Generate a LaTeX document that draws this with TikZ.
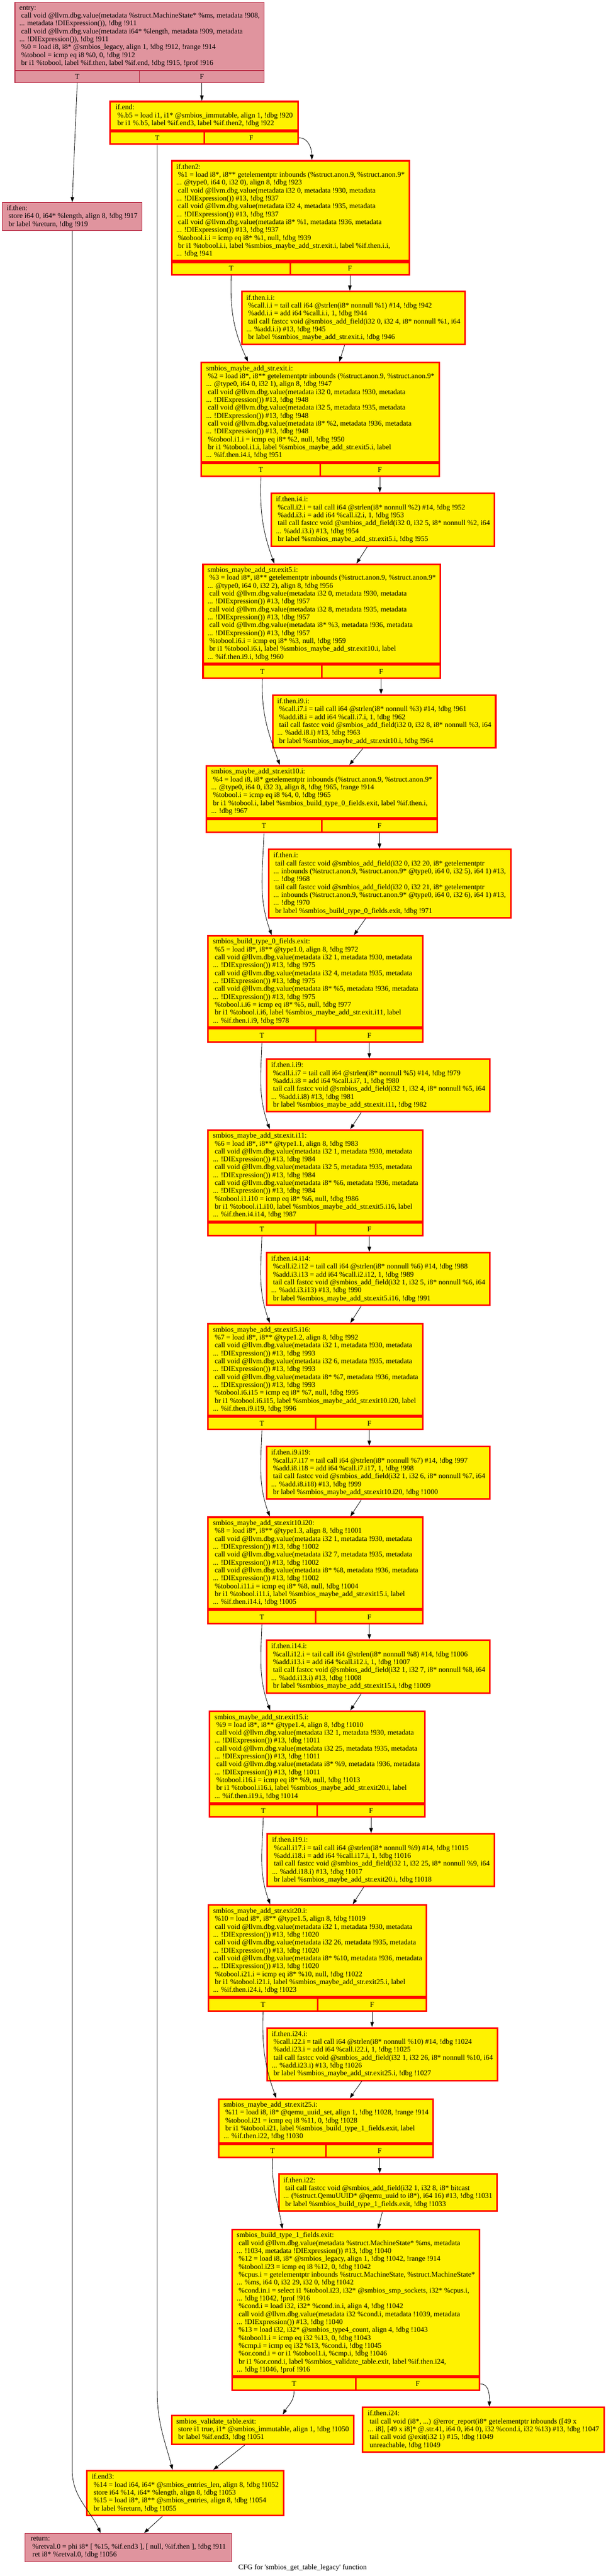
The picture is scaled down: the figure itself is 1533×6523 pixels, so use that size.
\documentclass[tikz,border=0pt]{standalone}
\usepackage{fontspec}
\setmainfont{Liberation Serif}
\usetikzlibrary{arrows.meta}
\definecolor{coldfill}{RGB}{224,148,158}
\definecolor{coldline}{RGB}{180,28,56}

\begin{document}
\begin{tikzpicture}[x=1pt,y=1pt]
		\tikzset{block/.style={draw=red, line width=4pt, fill=yellow, align=left, anchor=north west, inner sep=0pt, font=\fontsize{18.4}{20}\selectfont}}
		\tikzset{coldblock/.style={block, draw=coldline, line width=1.5pt, fill=coldfill}}
		\tikzset{cell/.style={draw=red, line width=4pt, fill=yellow, inner sep=0pt, font=\fontsize{18.4}{20}\selectfont}}
		\tikzset{coldcell/.style={cell, draw=coldline, line width=1.5pt, fill=coldfill}}
		\tikzset{flow/.style={draw, line width=1.1pt, -{Triangle[length=13pt,width=9pt]}}}
		\useasboundingbox (0,0) rectangle (1533,-6523);
		% blocks, top left corner at pixel position
		\node[coldblock, minimum width=631pt, minimum height=172pt] (entry) at (37,-5) {entry:\\
\ call void @llvm.dbg.value(metadata \%struct.MachineState* \%ms, metadata !908,\\
... metadata !DIExpression()), !dbg !911\\
\ call void @llvm.dbg.value(metadata i64* \%length, metadata !909, metadata\\
... !DIExpression()), !dbg !911\\
\ \%0 = load i8, i8* @smbios\_legacy, align 1, !dbg !912, !range !914\\
\ \%tobool = icmp eq i8 \%0, 0, !dbg !912\\
\ br i1 \%tobool, label \%if.then, label \%if.end, !dbg !915, !prof !916};
		\node[coldcell, anchor=north west, minimum width=315.5pt, minimum height=30pt] (entry-t) at (entry.south west) {T};
		\node[coldcell, anchor=north east, minimum width=315.5pt, minimum height=30pt] (entry-f) at (entry.south east) {F};

		\node[coldblock, minimum width=354pt, minimum height=71pt] (ifthen) at (5,-512) {if.then:\\
\ store i64 0, i64* \%length, align 8, !dbg !917\\
\ br label \%return, !dbg !919};

		\node[block, minimum width=476pt, minimum height=72pt] (ifend) at (277,-255) {if.end:\\
\ \%.b5 = load i1, i1* @smbios\_immutable, align 1, !dbg !920\\
\ br i1 \%.b5, label \%if.end3, label \%if.then2, !dbg !922};
		\node[cell, anchor=north west, minimum width=238pt, minimum height=32pt] (ifend-t) at (ifend.south west) {T};
		\node[cell, anchor=north east, minimum width=238pt, minimum height=32pt] (ifend-f) at (ifend.south east) {F};

		\node[block, minimum width=601pt, minimum height=253pt] (ifthentwo) at (433,-405) {if.then2:\\
\ \%1 = load i8*, i8** getelementptr inbounds (\%struct.anon.9, \%struct.anon.9*\\
... @type0, i64 0, i32 0), align 8, !dbg !923\\
\ call void @llvm.dbg.value(metadata i32 0, metadata !930, metadata\\
... !DIExpression()) \#13, !dbg !937\\
\ call void @llvm.dbg.value(metadata i32 4, metadata !935, metadata\\
... !DIExpression()) \#13, !dbg !937\\
\ call void @llvm.dbg.value(metadata i8* \%1, metadata !936, metadata\\
... !DIExpression()) \#13, !dbg !937\\
\ \%tobool.i.i = icmp eq i8* \%1, null, !dbg !939\\
\ br i1 \%tobool.i.i, label \%smbios\_maybe\_add\_str.exit.i, label \%if.then.i.i,\\
... !dbg !941};
		\node[cell, anchor=north west, minimum width=300.5pt, minimum height=32pt] (ifthentwo-t) at (ifthentwo.south west) {T};
		\node[cell, anchor=north east, minimum width=300.5pt, minimum height=32pt] (ifthentwo-f) at (ifthentwo.south east) {F};

		\node[block, minimum width=565pt, minimum height=134pt] (thenA) at (610,-736) {if.then.i.i:\\
\ \%call.i.i = tail call i64 @strlen(i8* nonnull \%1) \#14, !dbg !942\\
\ \%add.i.i = add i64 \%call.i.i, 1, !dbg !944\\
\ tail call fastcc void @smbios\_add\_field(i32 0, i32 4, i8* nonnull \%1, i64\\
... \%add.i.i) \#13, !dbg !945\\
\ br label \%smbios\_maybe\_add\_str.exit.i, !dbg !946};

		\node[block, minimum width=602pt, minimum height=252pt] (exitA) at (508,-916) {smbios\_maybe\_add\_str.exit.i:\\
\ \%2 = load i8*, i8** getelementptr inbounds (\%struct.anon.9, \%struct.anon.9*\\
... @type0, i64 0, i32 1), align 8, !dbg !947\\
\ call void @llvm.dbg.value(metadata i32 0, metadata !930, metadata\\
... !DIExpression()) \#13, !dbg !948\\
\ call void @llvm.dbg.value(metadata i32 5, metadata !935, metadata\\
... !DIExpression()) \#13, !dbg !948\\
\ call void @llvm.dbg.value(metadata i8* \%2, metadata !936, metadata\\
... !DIExpression()) \#13, !dbg !948\\
\ \%tobool.i1.i = icmp eq i8* \%2, null, !dbg !950\\
\ br i1 \%tobool.i1.i, label \%smbios\_maybe\_add\_str.exit5.i, label\\
... \%if.then.i4.i, !dbg !951};
		\node[cell, anchor=north west, minimum width=301pt, minimum height=32pt] (exitA-t) at (exitA.south west) {T};
		\node[cell, anchor=north east, minimum width=301pt, minimum height=32pt] (exitA-f) at (exitA.south east) {F};

		\node[block, minimum width=565pt, minimum height=134pt] (thenB) at (685,-1247) {if.then.i4.i:\\
\ \%call.i2.i = tail call i64 @strlen(i8* nonnull \%2) \#14, !dbg !952\\
\ \%add.i3.i = add i64 \%call.i2.i, 1, !dbg !953\\
\ tail call fastcc void @smbios\_add\_field(i32 0, i32 5, i8* nonnull \%2, i64\\
... \%add.i3.i) \#13, !dbg !954\\
\ br label \%smbios\_maybe\_add\_str.exit5.i, !dbg !955};

		\node[block, minimum width=601pt, minimum height=251pt] (exitB) at (512,-1427) {smbios\_maybe\_add\_str.exit5.i:\\
\ \%3 = load i8*, i8** getelementptr inbounds (\%struct.anon.9, \%struct.anon.9*\\
... @type0, i64 0, i32 2), align 8, !dbg !956\\
\ call void @llvm.dbg.value(metadata i32 0, metadata !930, metadata\\
... !DIExpression()) \#13, !dbg !957\\
\ call void @llvm.dbg.value(metadata i32 8, metadata !935, metadata\\
... !DIExpression()) \#13, !dbg !957\\
\ call void @llvm.dbg.value(metadata i8* \%3, metadata !936, metadata\\
... !DIExpression()) \#13, !dbg !957\\
\ \%tobool.i6.i = icmp eq i8* \%3, null, !dbg !959\\
\ br i1 \%tobool.i6.i, label \%smbios\_maybe\_add\_str.exit10.i, label\\
... \%if.then.i9.i, !dbg !960};
		\node[cell, anchor=north west, minimum width=300.5pt, minimum height=33pt] (exitB-t) at (exitB.south west) {T};
		\node[cell, anchor=north east, minimum width=300.5pt, minimum height=33pt] (exitB-f) at (exitB.south east) {F};

		\node[block, minimum width=564pt, minimum height=134pt] (thenC) at (689,-1758) {if.then.i9.i:\\
\ \%call.i7.i = tail call i64 @strlen(i8* nonnull \%3) \#14, !dbg !961\\
\ \%add.i8.i = add i64 \%call.i7.i, 1, !dbg !962\\
\ tail call fastcc void @smbios\_add\_field(i32 0, i32 8, i8* nonnull \%3, i64\\
... \%add.i8.i) \#13, !dbg !963\\
\ br label \%smbios\_maybe\_add\_str.exit10.i, !dbg !964};

		\node[block, minimum width=585pt, minimum height=132pt] (exitC) at (520,-1937) {smbios\_maybe\_add\_str.exit10.i:\\
\ \%4 = load i8, i8* getelementptr inbounds (\%struct.anon.9, \%struct.anon.9*\\
... @type0, i64 0, i32 3), align 8, !dbg !965, !range !914\\
\ \%tobool.i = icmp eq i8 \%4, 0, !dbg !965\\
\ br i1 \%tobool.i, label \%smbios\_build\_type\_0\_fields.exit, label \%if.then.i,\\
... !dbg !967};
		\node[cell, anchor=north west, minimum width=292.5pt, minimum height=33pt] (exitC-t) at (exitC.south west) {T};
		\node[cell, anchor=north east, minimum width=292.5pt, minimum height=33pt] (exitC-f) at (exitC.south east) {F};

		\node[block, minimum width=613pt, minimum height=173pt] (thenD) at (678,-2149) {if.then.i:\\
\ tail call fastcc void @smbios\_add\_field(i32 0, i32 20, i8* getelementptr\\
... inbounds (\%struct.anon.9, \%struct.anon.9* @type0, i64 0, i32 5), i64 1) \#13,\\
... !dbg !968\\
\ tail call fastcc void @smbios\_add\_field(i32 0, i32 21, i8* getelementptr\\
... inbounds (\%struct.anon.9, \%struct.anon.9* @type0, i64 0, i32 6), i64 1) \#13,\\
... !dbg !970\\
\ br label \%smbios\_build\_type\_0\_fields.exit, !dbg !971};

		\node[block, minimum width=544pt, minimum height=231pt] (typezero) at (525,-2368) {smbios\_build\_type\_0\_fields.exit:\\
\ \%5 = load i8*, i8** @type1.0, align 8, !dbg !972\\
\ call void @llvm.dbg.value(metadata i32 1, metadata !930, metadata\\
... !DIExpression()) \#13, !dbg !975\\
\ call void @llvm.dbg.value(metadata i32 4, metadata !935, metadata\\
... !DIExpression()) \#13, !dbg !975\\
\ call void @llvm.dbg.value(metadata i8* \%5, metadata !936, metadata\\
... !DIExpression()) \#13, !dbg !975\\
\ \%tobool.i.i6 = icmp eq i8* \%5, null, !dbg !977\\
\ br i1 \%tobool.i.i6, label \%smbios\_maybe\_add\_str.exit.i11, label\\
... \%if.then.i.i9, !dbg !978};
		\node[cell, anchor=north west, minimum width=272pt, minimum height=34pt] (typezero-t) at (typezero.south west) {T};
		\node[cell, anchor=north east, minimum width=272pt, minimum height=34pt] (typezero-f) at (typezero.south east) {F};

		\node[block, minimum width=565pt, minimum height=133pt] (thenE) at (673,-2680) {if.then.i.i9:\\
\ \%call.i.i7 = tail call i64 @strlen(i8* nonnull \%5) \#14, !dbg !979\\
\ \%add.i.i8 = add i64 \%call.i.i7, 1, !dbg !980\\
\ tail call fastcc void @smbios\_add\_field(i32 1, i32 4, i8* nonnull \%5, i64\\
... \%add.i.i8) \#13, !dbg !981\\
\ br label \%smbios\_maybe\_add\_str.exit.i11, !dbg !982};

		\node[block, minimum width=544pt, minimum height=232pt] (exitE) at (525,-2859) {smbios\_maybe\_add\_str.exit.i11:\\
\ \%6 = load i8*, i8** @type1.1, align 8, !dbg !983\\
\ call void @llvm.dbg.value(metadata i32 1, metadata !930, metadata\\
... !DIExpression()) \#13, !dbg !984\\
\ call void @llvm.dbg.value(metadata i32 5, metadata !935, metadata\\
... !DIExpression()) \#13, !dbg !984\\
\ call void @llvm.dbg.value(metadata i8* \%6, metadata !936, metadata\\
... !DIExpression()) \#13, !dbg !984\\
\ \%tobool.i1.i10 = icmp eq i8* \%6, null, !dbg !986\\
\ br i1 \%tobool.i1.i10, label \%smbios\_maybe\_add\_str.exit5.i16, label\\
... \%if.then.i4.i14, !dbg !987};
		\node[cell, anchor=north west, minimum width=272pt, minimum height=32pt] (exitE-t) at (exitE.south west) {T};
		\node[cell, anchor=north east, minimum width=272pt, minimum height=32pt] (exitE-f) at (exitE.south east) {F};

		\node[block, minimum width=565pt, minimum height=133pt] (thenF) at (673,-3170) {if.then.i4.i14:\\
\ \%call.i2.i12 = tail call i64 @strlen(i8* nonnull \%6) \#14, !dbg !988\\
\ \%add.i3.i13 = add i64 \%call.i2.i12, 1, !dbg !989\\
\ tail call fastcc void @smbios\_add\_field(i32 1, i32 5, i8* nonnull \%6, i64\\
... \%add.i3.i13) \#13, !dbg !990\\
\ br label \%smbios\_maybe\_add\_str.exit5.i16, !dbg !991};

		\node[block, minimum width=544pt, minimum height=232pt] (exitF) at (525,-3350) {smbios\_maybe\_add\_str.exit5.i16:\\
\ \%7 = load i8*, i8** @type1.2, align 8, !dbg !992\\
\ call void @llvm.dbg.value(metadata i32 1, metadata !930, metadata\\
... !DIExpression()) \#13, !dbg !993\\
\ call void @llvm.dbg.value(metadata i32 6, metadata !935, metadata\\
... !DIExpression()) \#13, !dbg !993\\
\ call void @llvm.dbg.value(metadata i8* \%7, metadata !936, metadata\\
... !DIExpression()) \#13, !dbg !993\\
\ \%tobool.i6.i15 = icmp eq i8* \%7, null, !dbg !995\\
\ br i1 \%tobool.i6.i15, label \%smbios\_maybe\_add\_str.exit10.i20, label\\
... \%if.then.i9.i19, !dbg !996};
		\node[cell, anchor=north west, minimum width=272pt, minimum height=32pt] (exitF-t) at (exitF.south west) {T};
		\node[cell, anchor=north east, minimum width=272pt, minimum height=32pt] (exitF-f) at (exitF.south east) {F};

		\node[block, minimum width=565pt, minimum height=133pt] (thenG) at (673,-3661) {if.then.i9.i19:\\
\ \%call.i7.i17 = tail call i64 @strlen(i8* nonnull \%7) \#14, !dbg !997\\
\ \%add.i8.i18 = add i64 \%call.i7.i17, 1, !dbg !998\\
\ tail call fastcc void @smbios\_add\_field(i32 1, i32 6, i8* nonnull \%7, i64\\
... \%add.i8.i18) \#13, !dbg !999\\
\ br label \%smbios\_maybe\_add\_str.exit10.i20, !dbg !1000};

		\node[block, minimum width=544pt, minimum height=232pt] (exitG) at (525,-3840) {smbios\_maybe\_add\_str.exit10.i20:\\
\ \%8 = load i8*, i8** @type1.3, align 8, !dbg !1001\\
\ call void @llvm.dbg.value(metadata i32 1, metadata !930, metadata\\
... !DIExpression()) \#13, !dbg !1002\\
\ call void @llvm.dbg.value(metadata i32 7, metadata !935, metadata\\
... !DIExpression()) \#13, !dbg !1002\\
\ call void @llvm.dbg.value(metadata i8* \%8, metadata !936, metadata\\
... !DIExpression()) \#13, !dbg !1002\\
\ \%tobool.i11.i = icmp eq i8* \%8, null, !dbg !1004\\
\ br i1 \%tobool.i11.i, label \%smbios\_maybe\_add\_str.exit15.i, label\\
... \%if.then.i14.i, !dbg !1005};
		\node[cell, anchor=north west, minimum width=272pt, minimum height=33pt] (exitG-t) at (exitG.south west) {T};
		\node[cell, anchor=north east, minimum width=272pt, minimum height=33pt] (exitG-f) at (exitG.south east) {F};

		\node[block, minimum width=565pt, minimum height=134pt] (thenH) at (673,-4151) {if.then.i14.i:\\
\ \%call.i12.i = tail call i64 @strlen(i8* nonnull \%8) \#14, !dbg !1006\\
\ \%add.i13.i = add i64 \%call.i12.i, 1, !dbg !1007\\
\ tail call fastcc void @smbios\_add\_field(i32 1, i32 7, i8* nonnull \%8, i64\\
... \%add.i13.i) \#13, !dbg !1008\\
\ br label \%smbios\_maybe\_add\_str.exit15.i, !dbg !1009};

		\node[block, minimum width=546pt, minimum height=232pt] (exitH) at (528,-4331) {smbios\_maybe\_add\_str.exit15.i:\\
\ \%9 = load i8*, i8** @type1.4, align 8, !dbg !1010\\
\ call void @llvm.dbg.value(metadata i32 1, metadata !930, metadata\\
... !DIExpression()) \#13, !dbg !1011\\
\ call void @llvm.dbg.value(metadata i32 25, metadata !935, metadata\\
... !DIExpression()) \#13, !dbg !1011\\
\ call void @llvm.dbg.value(metadata i8* \%9, metadata !936, metadata\\
... !DIExpression()) \#13, !dbg !1011\\
\ \%tobool.i16.i = icmp eq i8* \%9, null, !dbg !1013\\
\ br i1 \%tobool.i16.i, label \%smbios\_maybe\_add\_str.exit20.i, label\\
... \%if.then.i19.i, !dbg !1014};
		\node[cell, anchor=north west, minimum width=273pt, minimum height=32pt] (exitH-t) at (exitH.south west) {T};
		\node[cell, anchor=north east, minimum width=273pt, minimum height=32pt] (exitH-f) at (exitH.south east) {F};

		\node[block, minimum width=575pt, minimum height=133pt] (thenI) at (675,-4642) {if.then.i19.i:\\
\ \%call.i17.i = tail call i64 @strlen(i8* nonnull \%9) \#14, !dbg !1015\\
\ \%add.i18.i = add i64 \%call.i17.i, 1, !dbg !1016\\
\ tail call fastcc void @smbios\_add\_field(i32 1, i32 25, i8* nonnull \%9, i64\\
... \%add.i18.i) \#13, !dbg !1017\\
\ br label \%smbios\_maybe\_add\_str.exit20.i, !dbg !1018};

		\node[block, minimum width=552pt, minimum height=232pt] (exitI) at (526,-4822) {smbios\_maybe\_add\_str.exit20.i:\\
\ \%10 = load i8*, i8** @type1.5, align 8, !dbg !1019\\
\ call void @llvm.dbg.value(metadata i32 1, metadata !930, metadata\\
... !DIExpression()) \#13, !dbg !1020\\
\ call void @llvm.dbg.value(metadata i32 26, metadata !935, metadata\\
... !DIExpression()) \#13, !dbg !1020\\
\ call void @llvm.dbg.value(metadata i8* \%10, metadata !936, metadata\\
... !DIExpression()) \#13, !dbg !1020\\
\ \%tobool.i21.i = icmp eq i8* \%10, null, !dbg !1022\\
\ br i1 \%tobool.i21.i, label \%smbios\_maybe\_add\_str.exit25.i, label\\
... \%if.then.i24.i, !dbg !1023};
		\node[cell, anchor=north west, minimum width=276pt, minimum height=32pt] (exitI-t) at (exitI.south west) {T};
		\node[cell, anchor=north east, minimum width=276pt, minimum height=32pt] (exitI-f) at (exitI.south east) {F};

		\node[block, minimum width=582pt, minimum height=133pt] (thenJ) at (675,-5133) {if.then.i24.i:\\
\ \%call.i22.i = tail call i64 @strlen(i8* nonnull \%10) \#14, !dbg !1024\\
\ \%add.i23.i = add i64 \%call.i22.i, 1, !dbg !1025\\
\ tail call fastcc void @smbios\_add\_field(i32 1, i32 26, i8* nonnull \%10, i64\\
... \%add.i23.i) \#13, !dbg !1026\\
\ br label \%smbios\_maybe\_add\_str.exit25.i, !dbg !1027};

		\node[block, minimum width=543pt, minimum height=111pt] (exitJ) at (552,-5313) {smbios\_maybe\_add\_str.exit25.i:\\
\ \%11 = load i8, i8* @qemu\_uuid\_set, align 1, !dbg !1028, !range !914\\
\ \%tobool.i21 = icmp eq i8 \%11, 0, !dbg !1028\\
\ br i1 \%tobool.i21, label \%smbios\_build\_type\_1\_fields.exit, label\\
... \%if.then.i22, !dbg !1030};
		\node[cell, anchor=north west, minimum width=271.5pt, minimum height=33pt] (exitJ-t) at (exitJ.south west) {T};
		\node[cell, anchor=north east, minimum width=271.5pt, minimum height=33pt] (exitJ-f) at (exitJ.south east) {F};

		\node[block, minimum width=552pt, minimum height=94pt] (thenK) at (704,-5503) {if.then.i22:\\
\ tail call fastcc void @smbios\_add\_field(i32 1, i32 8, i8* bitcast\\
... (\%struct.QemuUUID* @qemu\_uuid to i8*), i64 16) \#13, !dbg !1031\\
\ br label \%smbios\_build\_type\_1\_fields.exit, !dbg !1033};

		\node[block, minimum width=626pt, minimum height=370pt] (typeone) at (586,-5644) {smbios\_build\_type\_1\_fields.exit:\\
\ call void @llvm.dbg.value(metadata \%struct.MachineState* \%ms, metadata\\
... !1034, metadata !DIExpression()) \#13, !dbg !1040\\
\ \%12 = load i8, i8* @smbios\_legacy, align 1, !dbg !1042, !range !914\\
\ \%tobool.i23 = icmp eq i8 \%12, 0, !dbg !1042\\
\ \%cpus.i = getelementptr inbounds \%struct.MachineState, \%struct.MachineState*\\
... \%ms, i64 0, i32 29, i32 0, !dbg !1042\\
\ \%cond.in.i = select i1 \%tobool.i23, i32* @smbios\_smp\_sockets, i32* \%cpus.i,\\
... !dbg !1042, !prof !916\\
\ \%cond.i = load i32, i32* \%cond.in.i, align 4, !dbg !1042\\
\ call void @llvm.dbg.value(metadata i32 \%cond.i, metadata !1039, metadata\\
... !DIExpression()) \#13, !dbg !1040\\
\ \%13 = load i32, i32* @smbios\_type4\_count, align 4, !dbg !1043\\
\ \%tobool1.i = icmp eq i32 \%13, 0, !dbg !1043\\
\ \%cmp.i = icmp eq i32 \%13, \%cond.i, !dbg !1045\\
\ \%or.cond.i = or i1 \%tobool1.i, \%cmp.i, !dbg !1046\\
\ br i1 \%or.cond.i, label \%smbios\_validate\_table.exit, label \%if.then.i24,\\
... !dbg !1046, !prof !916};
		\node[cell, anchor=north west, minimum width=313pt, minimum height=33pt] (typeone-t) at (typeone.south west) {T};
		\node[cell, anchor=north east, minimum width=313pt, minimum height=33pt] (typeone-f) at (typeone.south east) {F};

		\node[block, minimum width=460pt, minimum height=73pt] (validate) at (433,-6114) {smbios\_validate\_table.exit:\\
\ store i1 true, i1* @smbios\_immutable, align 1, !dbg !1050\\
\ br label \%if.end3, !dbg !1051};

		\node[block, minimum width=612pt, minimum height=113pt] (fail) at (916,-6094) {if.then.i24:\\
\ tail call void (i8*, ...) @error\_report(i8* getelementptr inbounds ([49 x\\
... i8], [49 x i8]* @.str.41, i64 0, i64 0), i32 \%cond.i, i32 \%13) \#13, !dbg !1047\\
\ tail call void @exit(i32 1) \#15, !dbg !1049\\
\ unreachable, !dbg !1049};

		\node[block, minimum width=498pt, minimum height=114pt] (ifendthree) at (218,-6254) {if.end3:\\
\ \%14 = load i64, i64* @smbios\_entries\_len, align 8, !dbg !1052\\
\ store i64 \%14, i64* \%length, align 8, !dbg !1053\\
\ \%15 = load i8*, i8** @smbios\_entries, align 8, !dbg !1054\\
\ br label \%return, !dbg !1055};

		\node[coldblock, minimum width=524pt, minimum height=72pt] (ret) at (62,-6414) {return:\\
\ \%retval.0 = phi i8* [ \%15, \%if.end3 ], [ null, \%if.then ], !dbg !911\\
\ ret i8* \%retval.0, !dbg !1056};

		\node[font=\fontsize{18.4}{20}\selectfont] (caption) at (766,-6502) {CFG for \textquotesingle smbios\_get\_table\_legacy\textquotesingle\ function};

		% edges
		\draw[flow] (entry-t.south) -- (ifthen.north);
		\draw[flow] (entry-f.south) -- (entry-f.south |- ifend.north);
		\draw[flow] (ifend-f.east) to[out=0,in=90] ([xshift=54pt]ifthentwo.north);
		\draw[flow] (ifend-t.south) -- (ifend-t.south |- typeone-t.south) to[out=-90,in=105] ([xshift=-32pt]ifendthree.north);
		\draw[flow] (ifthen.south) -- (ifthen.south |- ifendthree.north) to[out=-90,in=115] ([xshift=-70pt]ret.north);

		\draw[flow] (ifthentwo-t.south) to[out=-92,in=115] ([xshift=-183pt]exitA.north);
		\draw[flow] (ifthentwo-f.south) -- (ifthentwo-f.south |- thenA.north);
		\draw[flow] ([xshift=-22pt]thenA.south) -- ([xshift=48pt]exitA.north);

		\draw[flow] (exitA-t.south) to[out=-92,in=110] ([xshift=-120pt]exitB.north);
		\draw[flow] (exitA-f.south) -- (exitA-f.south |- thenB.north);
		\draw[flow] ([xshift=-40pt]thenB.south) -- ([xshift=88pt]exitB.north);

		\draw[flow] (exitB-t.south) to[out=-92,in=110] ([xshift=-106pt]exitC.north);
		\draw[flow] (exitB-f.south) -- (exitB-f.south |- thenC.north);
		\draw[flow] ([xshift=-55pt]thenC.south) -- ([xshift=70pt]exitC.north);

		\draw[flow] (exitC-t.south) to[out=-92,in=110] ([xshift=-111pt]typezero.north);
		\draw[flow] (exitC-f.south) -- (exitC-f.south |- thenD.north);
		\draw[flow] ([xshift=-61pt]thenD.south) -- ([xshift=97pt]typezero.north);

		\draw[flow] (typezero-t.south) to[out=-92,in=110] ([xshift=-116pt]exitE.north);
		\draw[flow] (typezero-f.south) -- (typezero-f.south |- thenE.north);
		\draw[flow] ([xshift=-43pt]thenE.south) -- ([xshift=88pt]exitE.north);

		\draw[flow] (exitE-t.south) to[out=-92,in=110] ([xshift=-116pt]exitF.north);
		\draw[flow] (exitE-f.south) -- (exitE-f.south |- thenF.north);
		\draw[flow] ([xshift=-43pt]thenF.south) -- ([xshift=88pt]exitF.north);

		\draw[flow] (exitF-t.south) to[out=-92,in=110] ([xshift=-116pt]exitG.north);
		\draw[flow] (exitF-f.south) -- (exitF-f.south |- thenG.north);
		\draw[flow] ([xshift=-43pt]thenG.south) -- ([xshift=88pt]exitG.north);

		\draw[flow] (exitG-t.south) to[out=-92,in=110] ([xshift=-119pt]exitH.north);
		\draw[flow] (exitG-f.south) -- (exitG-f.south |- thenH.north);
		\draw[flow] ([xshift=-43pt]thenH.south) -- ([xshift=84pt]exitH.north);

		\draw[flow] (exitH-t.south) to[out=-92,in=110] ([xshift=-120pt]exitI.north);
		\draw[flow] (exitH-f.south) -- (exitH-f.south |- thenI.north);
		\draw[flow] ([xshift=-44pt]thenI.south) -- ([xshift=89pt]exitI.north);

		\draw[flow] (exitI-t.south) to[out=-92,in=110] ([xshift=-126pt]exitJ.north);
		\draw[flow] (exitI-f.south) -- (exitI-f.south |- thenJ.north);
		\draw[flow] ([xshift=-52pt]thenJ.south) -- ([xshift=60pt]exitJ.north);

		\draw[flow] (exitJ-t.south) to[out=-92,in=100] ([xshift=-186pt]typeone.north);
		\draw[flow] (exitJ-f.south) -- (exitJ-f.south |- thenK.north);
		\draw[flow] ([xshift=-14pt]thenK.south) -- ([xshift=56pt]typeone.north);

		\draw[flow] (typeone-t.south) to[out=-90,in=60] ([xshift=51pt]validate.north);
		\draw[flow] (typeone-f.east) to[out=0,in=90] ([xshift=15pt]fail.north);
		\draw[flow] ([xshift=-45pt]validate.south) -- ([xshift=71pt]ifendthree.north);
		\draw[flow] ([xshift=-58pt]ifendthree.south) -- ([xshift=40pt]ret.north);
\end{tikzpicture}
\end{document}
